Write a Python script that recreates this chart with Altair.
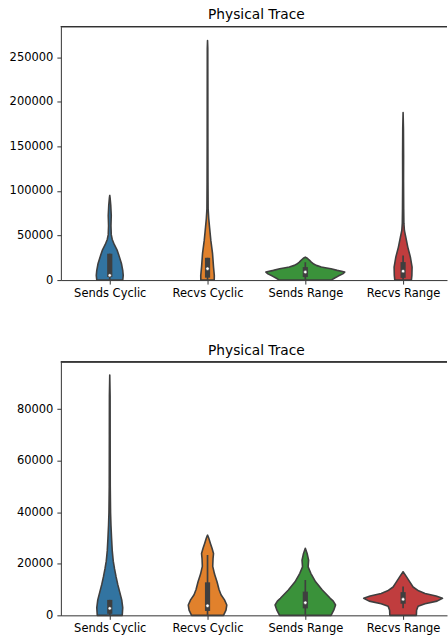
import altair as alt
import pandas as pd

# Categories and palette (seaborn-style desaturated tab10)
CATEGORIES = ["Sends Cyclic", "Recvs Cyclic", "Sends Range", "Recvs Range"]
COLORS = ["#3274A1", "#E1812C", "#3A923A", "#C03D3E"]
GRAY = "#3f3f3f"
SPINE = "#333333"
FONT = "DejaVu Sans"

# ---- upper panel: violin outlines (value, half-width density) ----
top_sc_values = [0, 5300, 11000, 18700, 26600, 33300, 40000, 45600, 51000, 61000, 72500, 84000, 91600, 95000]
top_sc_dens = [13, 13.5, 13, 11.7, 9.5, 7.5, 4.5, 2.5, 1.5, 1.2, 1.5, 1.0, 0.4, 0]
top_rc_values = [0, 5000, 14600, 29900, 44500, 59400, 69000, 80000, 110000, 160000, 220000, 260000, 268700]
top_rc_dens = [6.7, 6.8, 6.0, 5.0, 3.3, 2.0, 1.2, 0.6, 0.45, 0.35, 0.3, 0.25, 0]
top_sr_values = [0, 2000, 4500, 7000, 9000, 10900, 12700, 13800, 14600, 16500, 18000, 20200, 22500, 24500, 25800]
top_sr_dens = [26, 29, 33, 37.5, 39.5, 32, 25.7, 20, 16, 11, 8.5, 6, 4, 2, 0]
top_rr_values = [0, 5300, 14600, 25800, 37000, 48200, 55700, 63600, 80000, 110000, 140000, 170000, 188000]
top_rr_dens = [8.3, 8.8, 9.0, 7.3, 4.7, 2.7, 1.3, 0.8, 0.6, 0.45, 0.5, 0.35, 0]

# box summaries: whisker low, q1, median, q3, whisker high
top_whisk_lo = [300, 300, 300, 300]
top_q1 = [3400, 2700, 3400, 2500]
top_median = [5300, 12800, 9000, 10000]
top_q3 = [29600, 25000, 14600, 20200]
top_whisk_hi = [29600, 25000, 20000, 27700]

# ---- lower panel ----
bot_sc_values = [0, 3000, 6000, 9000, 12000, 15000, 18000, 21000, 25000, 30000, 35000, 40000, 50000, 70000, 85000, 93200]
bot_sc_dens = [12.5, 13, 12, 10, 8, 6.3, 4.8, 3.5, 2.5, 1.8, 1.2, 0.8, 0.5, 0.4, 0.35, 0]
bot_rc_values = [0, 2000, 4000, 6000, 8000, 10000, 13000, 16000, 19000, 22000, 24000, 26000, 28000, 30000, 31100]
bot_rc_dens = [16, 18.5, 19.3, 17, 13.5, 11.5, 9.5, 7, 5.2, 5.5, 6, 4.5, 2.8, 1.2, 0]
bot_sr_values = [0, 2000, 4000, 5500, 6600, 9800, 13000, 16300, 18800, 21400, 24000, 26000]
bot_sr_dens = [25.8, 28.5, 30.3, 28, 25, 17, 10.3, 5.5, 2.8, 3.3, 1.8, 0]
bot_rr_values = [0, 2000, 3500, 4500, 5500, 6600, 7500, 8500, 9500, 11000, 13000, 15000, 16900]
bot_rr_dens = [13.3, 13.5, 15, 22, 34, 39.5, 33, 22, 15.5, 10, 6.7, 3.3, 0]

bot_whisk_lo = [0, 200, 200, 2700]
bot_q1 = [600, 1700, 2700, 4500]
bot_median = [2700, 3700, 4900, 6200]
bot_q3 = [6000, 12800, 9200, 9000]
bot_whisk_hi = [6000, 23400, 13700, 11200]

TOP_TICKS = [0, 50000, 100000, 150000, 200000, 250000]
BOT_TICKS = [0, 20000, 40000, 60000, 80000]

PLOT_W = 387
PLOT_H = 254
X_DOMAIN = [-0.5, 3.449]
DENS_TO_SLOT = 1 / 98.0  # density units -> category-slot units


def violin_table(profiles):
    rows = []
    for i, (vals, dens) in enumerate(profiles):
        for v, d in zip(vals, dens):
            rows.append({"cat": CATEGORIES[i], "idx": i, "value": v, "dens": d})
    return pd.DataFrame(rows)


def box_table(lo, q1, med, q3, hi):
    return pd.DataFrame({
        "cat": CATEGORIES, "idx": list(range(len(CATEGORIES))),
        "lo": lo, "q1": q1, "med": med, "q3": q3, "hi": hi,
    })


label_expr = "[" + ",".join("'%s'" % c for c in CATEGORIES) + "][datum.value]"


def panel(profiles, boxes, y_max, y_ticks):
    vdf = violin_table(profiles)
    bdf = box_table(*boxes)
    xs = alt.Scale(domain=X_DOMAIN, nice=False, zero=False)
    ys = alt.Scale(domain=[0, y_max], nice=False, zero=False)
    x_axis = alt.Axis(values=[0, 1, 2, 3], labelExpr=label_expr, title=None,
                      grid=False, labelAngle=0, labelPadding=3)
    y_axis = alt.Axis(values=y_ticks, format="d", title=None, grid=False)

    violins = alt.Chart(vdf).transform_calculate(
        left="datum.idx - datum.dens * %f" % DENS_TO_SLOT,
        right="datum.idx + datum.dens * %f" % DENS_TO_SLOT,
    ).mark_area(orient="horizontal", stroke=GRAY, strokeWidth=1.6,
                strokeJoin="round", opacity=1).encode(
        x=alt.X("left:Q", scale=xs, axis=x_axis),
        x2="right:Q",
        y=alt.Y("value:Q", scale=ys, axis=y_axis),
        color=alt.Color("cat:N", scale=alt.Scale(domain=CATEGORIES, range=COLORS), legend=None),
        detail="cat:N",
    )
    whiskers = alt.Chart(bdf).mark_rule(color=GRAY, strokeWidth=1.7).encode(
        x=alt.X("idx:Q", scale=xs, axis=x_axis),
        y=alt.Y("lo:Q", scale=ys, axis=y_axis),
        y2="hi:Q",
    )
    box = alt.Chart(bdf).mark_rule(color=GRAY, strokeWidth=5.2).encode(
        x=alt.X("idx:Q", scale=xs, axis=x_axis),
        y=alt.Y("q1:Q", scale=ys, axis=y_axis),
        y2="q3:Q",
    )
    median = alt.Chart(bdf).mark_point(filled=True, fill="white", stroke=GRAY,
                                       strokeWidth=0.6, size=12, opacity=1).encode(
        x=alt.X("idx:Q", scale=xs, axis=x_axis),
        y=alt.Y("med:Q", scale=ys, axis=y_axis),
    )
    top_spine = alt.Chart(bdf).mark_rule(color=SPINE, strokeWidth=1).encode(
        x=alt.value(0), x2=alt.value(PLOT_W), y=alt.value(0)
    )
    return alt.layer(violins, whiskers, box, median, top_spine).properties(
        width=PLOT_W, height=PLOT_H,
        title=alt.TitleParams("Physical Trace", dx=2.5),
    )


top = panel(
    [(top_sc_values, top_sc_dens), (top_rc_values, top_rc_dens),
     (top_sr_values, top_sr_dens), (top_rr_values, top_rr_dens)],
    (top_whisk_lo, top_q1, top_median, top_q3, top_whisk_hi),
    284400, TOP_TICKS,
)
bottom = panel(
    [(bot_sc_values, bot_sc_dens), (bot_rc_values, bot_rc_dens),
     (bot_sr_values, bot_sr_dens), (bot_rr_values, bot_rr_dens)],
    (bot_whisk_lo, bot_q1, bot_median, bot_q3, bot_whisk_hi),
    98300, BOT_TICKS,
)

chart = alt.vconcat(top, bottom, spacing=44).properties(
    padding={"left": 9, "top": 7, "right": 0, "bottom": 0}
).configure_view(stroke=None).configure_axis(
    labelFont=FONT, labelFontSize=11.5, labelColor="#000",
    domainColor=SPINE, tickColor=SPINE, domainWidth=1, tickWidth=1,
    tickSize=4, labelPadding=4,
).configure_title(
    font=FONT, fontSize=13.8, fontWeight="normal", color="#000",
    anchor="middle", offset=4,
)

chart.save("out.html", embed_options={"renderer": "svg", "actions": False})
